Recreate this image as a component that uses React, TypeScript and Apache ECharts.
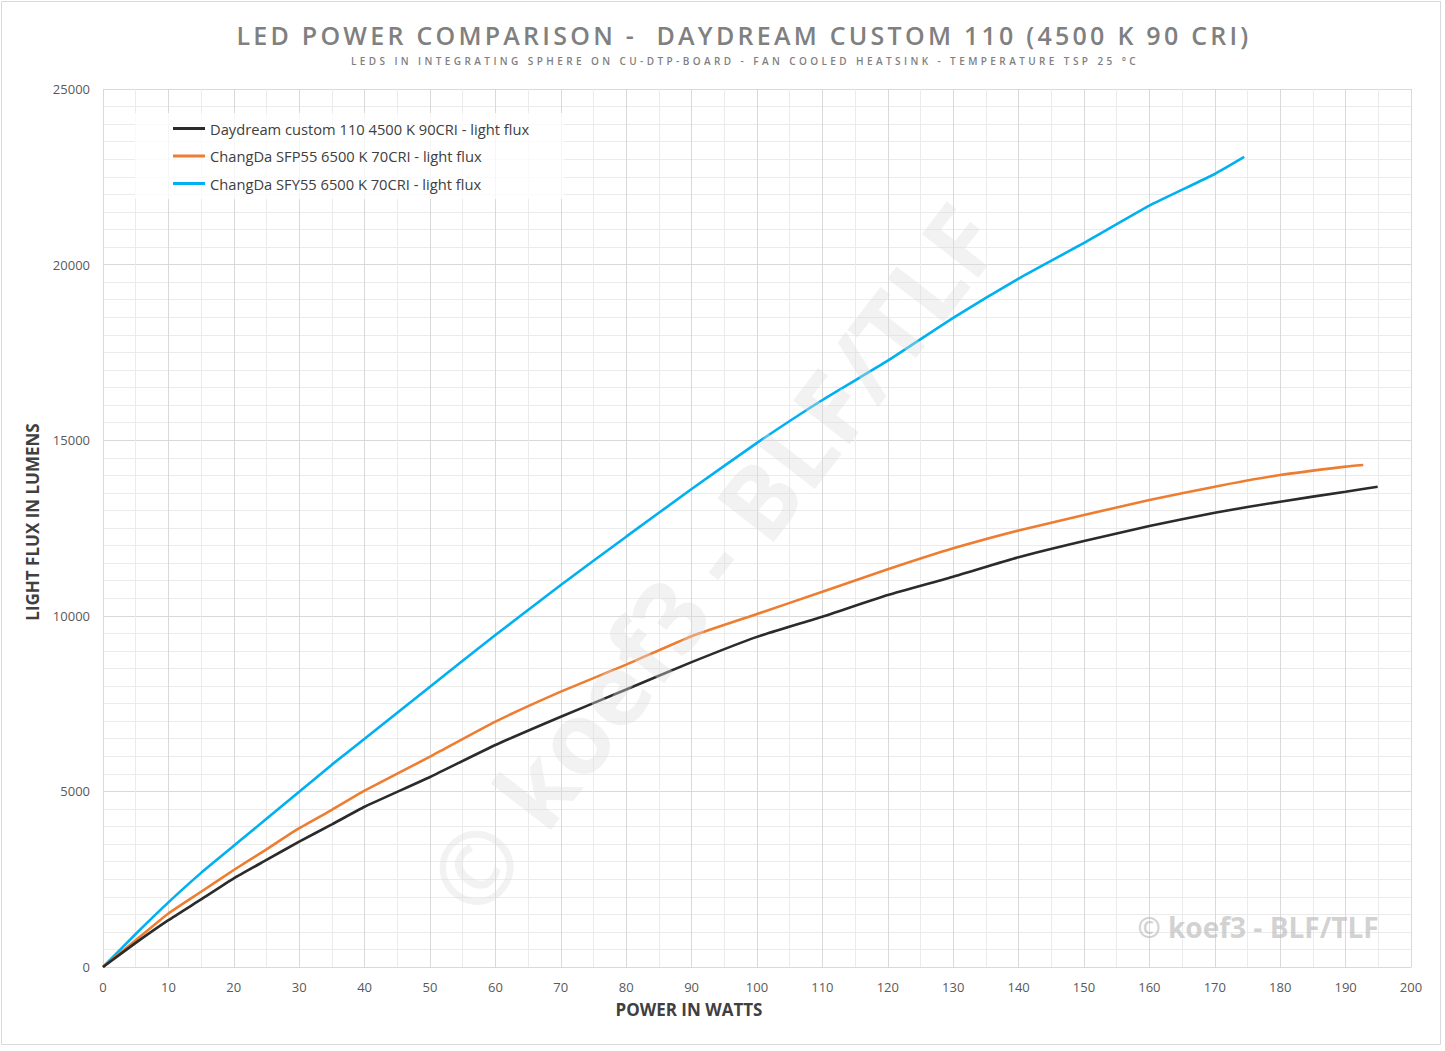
import React, { useEffect, useRef } from "react";
import * as echarts from "echarts";

const TITLE = "LED POWER COMPARISON -  DAYDREAM CUSTOM 110 (4500 K 90 CRI)";
const SUBTITLE = "LEDS IN INTEGRATING SPHERE ON CU-DTP-BOARD - FAN COOLED HEATSINK - TEMPERATURE TSP 25 °C";
const X_NAME = "POWER IN WATTS";
const Y_NAME = "LIGHT FLUX IN LUMENS";
const WATERMARK = "© koef3 - BLF/TLF";

const seriesNames = [
  "Daydream custom 110 4500 K 90CRI - light flux",
  "ChangDa SFP55 6500 K 70CRI - light flux",
  "ChangDa SFY55 6500 K 70CRI - light flux",
];
const seriesColors = ["#2b2b2b", "#ED7D31", "#00B0F0"];

const daydreamW = [0, 5, 10, 15, 20, 25, 30, 35, 40, 50, 60, 70, 80, 90, 100, 110, 120, 130, 140, 150, 160, 170, 180, 190, 194.9];
const daydreamLm = [0, 686, 1333, 1924, 2524, 3048, 3571, 4060, 4562, 5410, 6321, 7127, 7900, 8680, 9400, 9976, 10592, 11114, 11670, 12130, 12557, 12936, 13250, 13534, 13677];

const sfp55W = [0, 5, 10, 15, 20, 25, 30, 35, 40, 50, 60, 70, 80, 90, 100, 110, 120, 130, 140, 150, 160, 170, 180, 190, 192.7];
const sfp55Lm = [0, 762, 1524, 2143, 2762, 3352, 3952, 4476, 5020, 5988, 6985, 7840, 8610, 9420, 10050, 10687, 11323, 11920, 12430, 12870, 13297, 13677, 14009, 14247, 14294];

const sfy55W = [0, 5, 10, 15, 20, 25, 30, 35, 40, 50, 60, 70, 80, 90, 100, 110, 120, 130, 140, 150, 160, 170, 174.5];
const sfy55Lm = [0, 940, 1840, 2680, 3450, 4220, 4990, 5762, 6500, 7981, 9453, 10877, 12253, 13610, 14924, 16145, 17263, 18483, 19603, 20619, 21680, 22580, 23064];

const xMin = 0, xMax = 200, xStep = 10;
const yMin = 0, yMax = 25000, yStep = 5000;

function zip(xs: number[], ys: number[]) {
  return xs.map((x, i) => [x, ys[i]]);
}

export default function App() {
  const ref = useRef<HTMLDivElement>(null);
  useEffect(() => {
    if (!ref.current) return;
    const el = ref.current;
    const chart = echarts.init(el, undefined, { renderer: "svg" });
    const font = "'Open Sans', 'Noto Sans', sans-serif";
    const data = [zip(daydreamW, daydreamLm), zip(sfp55W, sfp55Lm), zip(sfy55W, sfy55Lm)];

    // Widen the tracked (letter-spaced) title texts to their widths in the reference.
    const applySpacing = () => {
      const svg = el.querySelector("svg");
      if (!svg) return;
      svg.querySelectorAll("text").forEach((t) => {
        const txt = t.textContent || "";
        const target = txt === TITLE ? 1012 : txt === SUBTITLE ? 785 : 0;
        if (!target) return;
        (t as SVGTextElement).style.letterSpacing = "0px";
        const w = (t as SVGTextElement).getComputedTextLength();
        const ls = (target - w) / Math.max(1, txt.length - 1);
        (t as SVGTextElement).style.letterSpacing = ls.toFixed(2) + "px";
      });
    };

    chart.setOption({
      animation: false,
      backgroundColor: "#ffffff",
      textStyle: { fontFamily: font },
      legend: {
        orient: "vertical",
        left: 135,
        top: 113,
        padding: [8, 35, 8, 38],
        itemGap: 12.5,
        itemWidth: 32,
        itemHeight: 3,
        icon: "rect",
        backgroundColor: "rgba(255,255,255,0.75)",
        textStyle: { fontFamily: font, fontSize: 14.7, color: "#404040" },
        data: seriesNames,
      },
      grid: { left: 103, right: 34, top: 89, bottom: 84, containLabel: false },
      xAxis: {
        type: "value",
        min: xMin,
        max: xMax,
        interval: xStep,
        name: X_NAME,
        nameLocation: "middle",
        nameGap: 34,
        nameTextStyle: {
          fontFamily: font,
          fontSize: 17,
          fontWeight: "bold",
          color: "#404040",
          padding: [0, 136, 0, 0],
        },
        axisLine: { show: true, lineStyle: { color: "#d9d9d9", width: 1 } },
        axisTick: { show: false },
        axisLabel: { fontFamily: font, fontSize: 13, color: "#595959", margin: 13 },
        splitLine: { show: true, lineStyle: { color: "#d9d9d9", width: 1 } },
        minorTick: { show: false, splitNumber: 2 },
        minorSplitLine: { show: true, lineStyle: { color: "#ebebeb", width: 1 } },
      },
      yAxis: {
        type: "value",
        min: yMin,
        max: yMax,
        interval: yStep,
        name: Y_NAME,
        nameLocation: "middle",
        nameGap: 62,
        nameTextStyle: {
          fontFamily: font,
          fontSize: 17,
          fontWeight: "bold",
          color: "#404040",
          padding: [0, 0, 0, 12],
        },
        axisLine: { show: false },
        axisTick: { show: false },
        axisLabel: {
          fontFamily: font,
          fontSize: 13,
          color: "#595959",
          margin: 13,
          formatter: (v: number) => String(v),
        },
        splitLine: { show: true, lineStyle: { color: "#d9d9d9", width: 1 } },
        minorTick: { show: false, splitNumber: 10 },
        minorSplitLine: { show: true, lineStyle: { color: "#ebebeb", width: 1 } },
      },
      series: seriesNames.map((name, i) => ({
        name,
        type: "line",
        data: data[i],
        showSymbol: false,
        smooth: 0.15,
        color: seriesColors[i],
        lineStyle: { color: seriesColors[i], width: 2.6 },
        z: 3 + (2 - i),
      })),
      graphic: [
        {
          type: "rect",
          shape: { x: 1.5, y: 1.5, width: 1439, height: 1043 },
          style: { fill: "none", stroke: "#d9d9d9", lineWidth: 1 },
          silent: true,
          z: -10,
        },
        {
          type: "text",
          x: 744,
          y: 35,
          style: {
            text: TITLE,
            font: `600 25px ${font}`,
            fill: "#808080",
            align: "center",
            verticalAlign: "middle",
          },
          silent: true,
          z: 50,
        },
        {
          type: "text",
          x: 745,
          y: 61,
          style: {
            text: SUBTITLE,
            font: `600 10px ${font}`,
            fill: "#7f7f7f",
            align: "center",
            verticalAlign: "middle",
          },
          silent: true,
          z: 50,
        },
        {
          type: "text",
          x: 712,
          y: 558,
          rotation: (52.3 * Math.PI) / 180,
          style: {
            text: WATERMARK,
            font: `bold 100px ${font}`,
            fill: "rgba(220,220,220,0.38)",
            align: "center",
            verticalAlign: "middle",
          },
          silent: true,
          z: 100,
        },
        {
          type: "text",
          x: 1258,
          y: 927,
          style: {
            text: WATERMARK,
            font: `bold 28px ${font}`,
            fill: "rgba(190,190,190,0.7)",
            align: "center",
            verticalAlign: "middle",
          },
          silent: true,
          z: 100,
        },
      ],
    });
    chart.on("finished", applySpacing);
    applySpacing();
    const t1 = setTimeout(applySpacing, 50);
    const t2 = setTimeout(applySpacing, 300);
    return () => {
      clearTimeout(t1);
      clearTimeout(t2);
      chart.dispose();
    };
  }, []);
  return (
    <div
      ref={ref}
      style={{ position: "fixed", left: 0, top: 0, width: 1445, height: 1051, background: "#fff" }}
    />
  );
}
